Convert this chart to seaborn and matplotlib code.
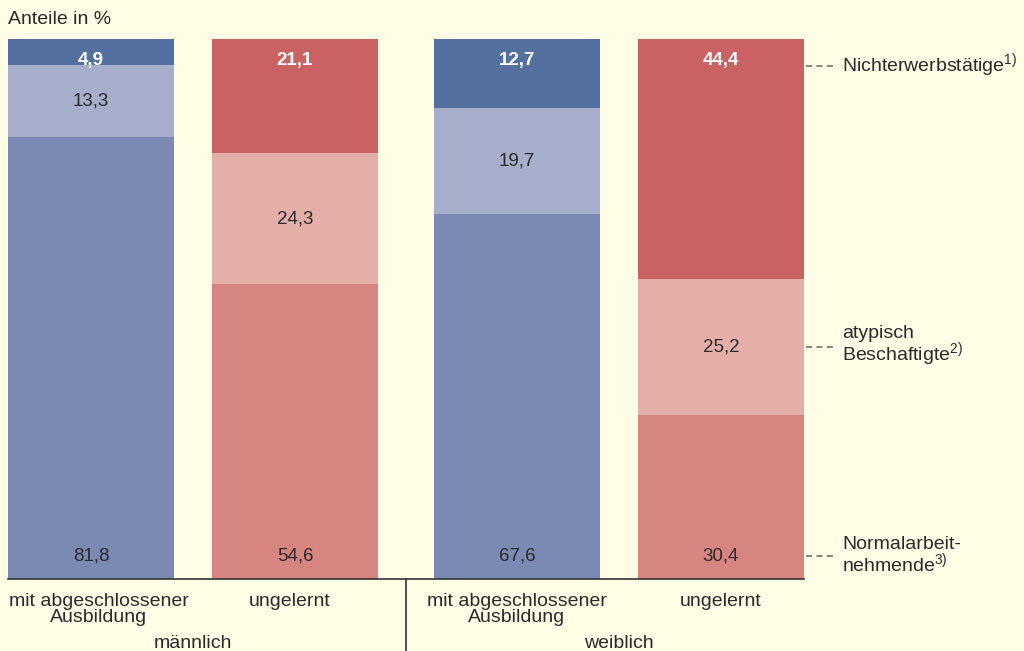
import pandas as pd
import matplotlib.pyplot as plt
import seaborn as sns
from matplotlib.lines import Line2D
from matplotlib.transforms import blended_transform_factory, ScaledTranslation

# Daten
geschlecht = ["männlich", "männlich", "weiblich", "weiblich"]
ausbildung = ["mit abgeschlossener\nAusbildung", "ungelernt",
              "mit abgeschlossener\nAusbildung", "ungelernt"]
normal = [81.8, 54.6, 67.6, 30.4]
atypisch = [13.3, 24.3, 19.7, 25.2]
nicht_erwerb = [4.9, 21.1, 12.7, 44.4]

# Layout (Pixelkoordinaten der Balkenmitten)
bar_x = [91, 295, 517, 721]
bar_w = 166
label_shift_px = [8, -5, 0, 0]

bg = "#fffde6"
txt = "#2a2a2a"
farben = {
    "nicht": {"mit abgeschlossener\nAusbildung": "#53709f", "ungelernt": "#ca6163"},
    "atyp": {"mit abgeschlossener\nAusbildung": "#a7aecb", "ungelernt": "#e5afa9"},
    "normal": {"mit abgeschlossener\nAusbildung": "#7b8ab3", "ungelernt": "#d78581"},
}
fs = 14
fs_num = 13.5

df = pd.DataFrame({"geschlecht": geschlecht, "ausbildung": ausbildung,
                   "normal": normal, "atypisch": atypisch, "nicht": nicht_erwerb})
df["x"] = bar_x
df["stufe2"] = df["normal"] + df["atypisch"]
df["stufe3"] = df["stufe2"] + df["nicht"]

sns.set_style("white")
plt.rcParams["font.family"] = ["Liberation Sans", "DejaVu Sans"]
plt.rcParams["mathtext.fontset"] = "custom"
plt.rcParams["mathtext.rm"] = "Liberation Sans"

fig = plt.figure(figsize=(10.24, 6.51), dpi=100, facecolor=bg)
ax = fig.add_axes([8 / 1024, 72 / 651, 796 / 1024, 540 / 651])
ax.set_facecolor(bg)

w = bar_w / 204
for col, key in [("stufe3", "nicht"), ("stufe2", "atyp"), ("normal", "normal")]:
    sns.barplot(data=df, x="x", y=col, hue="ausbildung", palette=farben[key],
                native_scale=True, dodge=False, width=w, saturation=1,
                linewidth=0, edgecolor="none", errorbar=None, legend=False,
                orient="x", ax=ax)

ax.set_xlim(8, 804)
ax.set_ylim(0, 100)
ax.set_yticks([])
ax.set_ylabel("")
ax.set_xlabel("")
for s in ["top", "left", "right"]:
    ax.spines[s].set_visible(False)
ax.spines["bottom"].set_color("#333333")
ax.spines["bottom"].set_linewidth(1.2)
ax.set_xticks(bar_x, ausbildung)
ax.tick_params(axis="x", length=0, pad=10, labelsize=fs, labelcolor=txt)
for lab, dx in zip(ax.get_xticklabels(), label_shift_px):
    lab.set_linespacing(0.9)
    lab.set_transform(lab.get_transform() + ScaledTranslation(dx / 100, 0, fig.dpi_scale_trans))

# Werte
for _, r in df.iterrows():
    ax.text(r["x"], 4.3, f"{r['normal']:.1f}".replace(".", ","), ha="center",
            va="center", fontsize=fs_num, color=txt)
    ax.text(r["x"], r["normal"] + r["atypisch"] / 2, f"{r['atypisch']:.1f}".replace(".", ","),
            ha="center", va="center", fontsize=fs_num, color=txt)
    ax.text(r["x"], 96.1, f"{r['nicht']:.1f}".replace(".", ","), ha="center",
            va="center", fontsize=fs_num, color="white", fontweight="bold")

# Geschlecht
tr = blended_transform_factory(ax.transData, ax.transAxes)
for g in ["männlich", "weiblich"]:
    xs = df.loc[df["geschlecht"] == g, "x"]
    ax.text((xs.min() + xs.max()) / 2, -0.12, g, transform=tr, ha="center",
            va="center", fontsize=fs, color=txt)

fig.add_artist(Line2D([406 / 1024, 406 / 1024], [72 / 651, 0], color="#333333", lw=1.2))

fig.text(8 / 1024, 1 - 19 / 651, "Anteile in %", ha="left", va="center",
         fontsize=fs, color=txt)

# Legende rechts
leg = [(66, r"Nichterwerbstätige$^{\mathrm{1)}}$"),
       (347, "atypisch\n" + r"Beschaftigte$^{\mathrm{2)}}$"),
       (556, "Normalarbeit-\n" + r"nehmende$^{\mathrm{3)}}$")]
for py, label in leg:
    y = 1 - py / 651
    fig.add_artist(Line2D([806 / 1024, 834 / 1024], [y, y], color="#666666",
                          lw=1.1, ls=(0, (4, 2.8))))
    fig.text(842 / 1024, y, label, ha="left", va="center", fontsize=fs,
             color=txt, linespacing=0.9)

fig.savefig("out.png", dpi=100, facecolor=bg)
